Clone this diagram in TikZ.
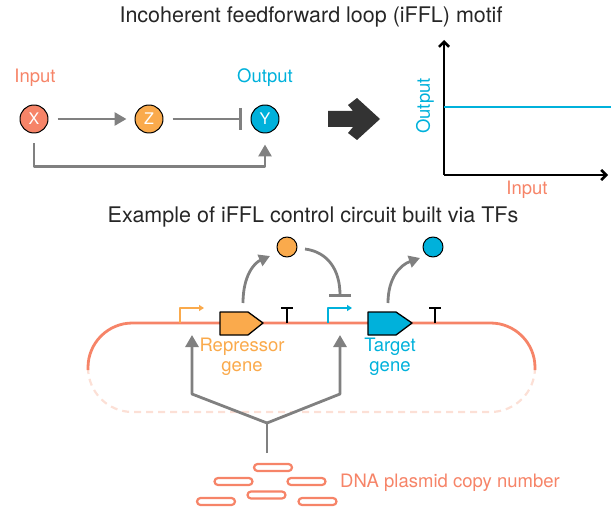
\documentclass[tikz,border=0pt]{standalone}
\usepackage{fontspec}
\setmainfont{TeX Gyre Heros}
\usetikzlibrary{arrows.meta,calc}

\definecolor{salmon}{RGB}{246,132,104}
\definecolor{amber}{RGB}{250,170,76}
\definecolor{outcyan}{RGB}{0,177,219}
\definecolor{pale}{RGB}{252,224,214}
\definecolor{linkgray}{RGB}{128,128,128}
\definecolor{darkarrow}{RGB}{51,51,51}

\begin{document}
\begin{tikzpicture}[x=1pt,y=-1pt,line join=round,
  txt/.style={font=\fontsize{18.5}{20}\selectfont,inner sep=0pt,align=center},
  head/.style={font=\fontsize{21.5}{24}\selectfont,inner sep=0pt,text=black!85},
  species/.style={circle,draw=black,line width=1pt,minimum size=28pt,inner sep=0pt,text=white,font=\fontsize{16}{16}\selectfont},
  link/.style={draw=linkgray,line width=2.8pt,-{Triangle[length=12pt,width=13pt]}},
  block/.style={draw=linkgray,line width=2.8pt,-{Bar[width=22pt]}},
  axis/.style={black,line width=2.6pt,-{Straight Barb[length=5pt,width=10pt]}},
  prom/.style={line width=2pt,-{Triangle[length=5pt,width=6pt]}},
  term/.style={black,line width=2.6pt},
  gene/.style={draw=black,line width=1.3pt},
  plasmid/.style={draw=salmon,line width=2.2pt,fill=white,rounded corners=3.5pt}]
  \useasboundingbox (0,0) rectangle (611,508);

  % motif
  \node[head] (title) at (311,17) {Incoherent feedforward loop (iFFL) motif};
  \node[species,fill=salmon] (X) at (34,119) {X};
  \node[species,fill=amber] (Z) at (149,119) {Z};
  \node[species,fill=outcyan] (Y) at (265,119) {Y};
  \node[txt,text=salmon] (inlabel) at (35,78) {Input};
  \node[txt,text=outcyan] (outlabel) at (265,78) {Output};
  \draw[link,shorten <=9pt,shorten >=8pt] (X) -- (Z);
  \draw[block,shorten <=9pt,shorten >=9pt] (Z) -- (Y);
  \draw[link,shorten <=10pt,shorten >=11pt] (X.south) -- ++(0,33) -| (Y.south);

  \fill[darkarrow] (328,111) -- (353,111) -- (348,105) -- (357,98) -- (380,119)
    -- (357,140) -- (348,133) -- (353,127) -- (328,127) -- cycle;

  % response plot
  \coordinate (O) at (444,175);
  \coordinate (ytop) at (444,40);
  \coordinate (xend) at (608,175);
  \draw[axis] (O) -- (ytop);
  \draw[axis] (O) -- (xend);
  \draw[outcyan,line width=2.6pt] (444,107) -- (611,107);
  \node[txt,text=outcyan,rotate=90] (yname) at (425,106) {Output};
  \node[txt,text=salmon] (xname) at (527,190) {Input};

  % circuit
  \node[head] (subtitle) at (313,217) {Example of iFFL control circuit built via TFs};
  \draw[pale,line width=2.2pt,dashed,dash pattern=on 7pt off 5pt,rounded corners=44.5pt]
    (88,368) |- (311,412) -| (535,368);
  \draw[salmon,line width=2.8pt,rounded corners=44.5pt] (88,370) |- (311,323) -| (535,370);

  \draw[prom,amber] (180,323) -- (180,308) -- (204,308);
  \draw[prom,outcyan] (328,323) -- (328,308) -- (352,308);
  \draw[gene,fill=amber] (220,312) -- (248,312) -- (263,323) -- (248,335) -- (220,335) -- cycle;
  \draw[gene,fill=outcyan] (368,312) -- (396,312) -- (412,323) -- (396,335) -- (368,335) -- cycle;
  \draw[term] (287,323) -- (287,308) (281,308) -- (293,308);
  \draw[term] (435,323) -- (435,308) (429,308) -- (441,308);

  \node[circle,draw=black,line width=1pt,fill=amber,minimum size=20pt,inner sep=0pt] (rep) at (287,247) {};
  \node[circle,draw=black,line width=1pt,fill=outcyan,minimum size=20pt,inner sep=0pt] (tgt) at (433,247) {};
  \coordinate (repout) at (243,303);
  \coordinate (tgtout) at (388,303);
  \coordinate (barpos) at (340,297);
  \draw[link,-{Triangle[length=11pt,width=12pt]}] (repout) .. controls (243,276) and (254,263) .. (270,256);
  \draw[link,-{Triangle[length=11pt,width=12pt]}] (tgtout) .. controls (388,278) and (400,265) .. (420,258);
  \draw[block] (305,249) .. controls (328,252) and (340,270) .. (barpos);

  \node[txt,text=amber] (replabel) at (242,357) {Repressor\\gene};
  \node[txt,text=outcyan] (tgtlabel) at (390,357) {Target\\gene};

  % copy number input
  \coordinate (copy) at (267,453);
  \coordinate (fork) at (267,423);
  \draw[linkgray,line width=2.8pt] (copy) -- (fork);
  \draw[link] (fork) -- (192,394) -- (192,335);
  \draw[link] (fork) -- (340,394) -- (340,335);
  \foreach \cx/\cy in {273/467.5,233.5/481.5,306.5/481.5,266.5/495,216/501.5,317.5/501.5}
    \draw[plasmid] (\cx-19,\cy-3.5) rectangle (\cx+19,\cy+3.5);
  \node[txt,text=salmon,anchor=west] (dnalabel) at (340,483) {DNA plasmid copy number};
\end{tikzpicture}
\end{document}
